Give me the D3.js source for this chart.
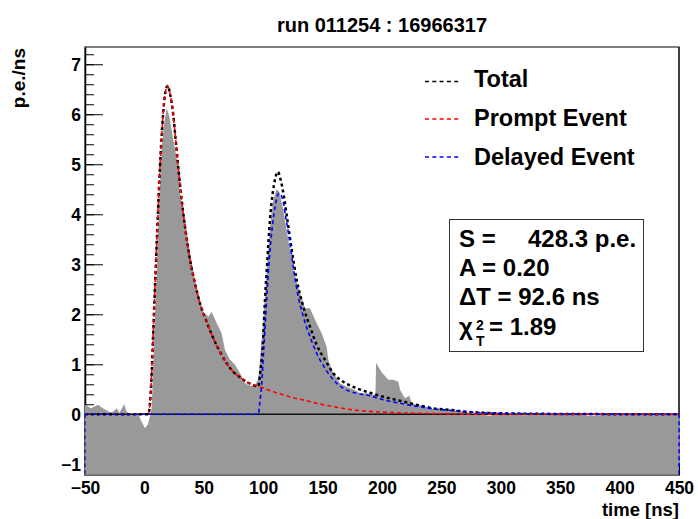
<!DOCTYPE html>
<html><head><meta charset="utf-8">
<script src="https://cdn.jsdelivr.net/npm/d3@7"></script>
<style>
html,body{margin:0;padding:0;background:#fff;}
svg{display:block;font-family:"Liberation Sans",Arial,Helvetica,sans-serif;font-weight:bold;}
</style></head>
<body>
<svg id="c" width="698" height="519"></svg>
<script>
// ---------- data ----------
const titleText = "run 011254 : 16966317";
const xTickValues = [-50, 0, 50, 100, 150, 200, 250, 300, 350, 400, 450];
const yTickValues = [-1, 0, 1, 2, 3, 4, 5, 6, 7];

// measured pulse (p.e./ns)
const histT = [-50,-45,-39,-35,-30,-27,-23.3,-21,-17,-15,-12,-5,-3,0.5,3,5,6,6.7,8.1,10.3,12.3,14.5,16.5,18.8,21,24.3,28.5,30,34.2,38.4,42.6,46.8,49.6,53.8,56.6,60.9,65,67.8,72,76.3,80.5,84.7,88.9,93.1,95.9,97.3,100.1,102.9,105.7,108.5,111.2,113.5,116.9,121.1,125.3,131,135.2,139.4,143.6,149.2,153.4,154.8,159,164.6,170.3,175.8,181.5,187.1,192.7,194.5,195,199.7,205.3,209.5,213.7,215.2,219.4,223,225,229,235,240.4,246,254.5,265.7,270,274,280,290,300,310,320,330,340,360,375,400,420,450];
const histV = [0.19,0.12,0.19,0.12,0.05,0.04,0.12,0.03,0.2,0.05,0,0,-0.12,-0.28,-0.2,0,0.1,0.49,1.49,2.83,4.15,5.29,5.8,6.12,5.95,5.49,4.95,4.42,3.89,3.22,2.69,2.22,2.05,1.95,2.05,1.82,1.62,1.29,1.09,0.99,0.82,0.62,0.57,0.58,0.7,1.09,1.89,2.89,3.75,4.29,4.5,4.45,4.09,3.49,2.89,2.42,2.12,2.12,1.89,1.62,1.35,1.09,0.82,0.62,0.55,0.5,0.42,0.42,0.39,0.40,1.03,0.84,0.69,0.69,0.65,0.49,0.32,0.37,0.22,0.19,0.17,0.12,0.09,0.08,0.05,0.08,0,0.01,-0.03,0.01,0,-0.02,0.01,0,0,-0.03,0,0.01,0];

// fitted components
const promptT = [-50,3.3,4.7,6.1,7.5,8.9,10.9,13.1,15.4,17.3,19.6,21.5,23.8,25.8,28.5,31.4,34.2,38.4,42.6,46.8,52.4,58,63.6,69.2,74.8,80.5,86,97.3,108.5,116.9,125.3,135,145,160,175,195,215,250,300,450];
const promptV = [0,0,0.22,0.82,1.69,2.55,3.75,4.95,5.89,6.39,6.57,6.42,6.09,5.62,4.95,4.29,3.75,3.09,2.62,2.22,1.85,1.52,1.25,1.02,0.85,0.74,0.65,0.55,0.45,0.39,0.33,0.28,0.22,0.15,0.09,0.05,0.03,0.01,0,0];

const delayedT = [-50,95.9,97,98.7,100.6,102.9,105.1,107.7,110.5,113.3,116.1,118.9,121.7,125.3,129.5,133.8,139.4,145,152,159,167.4,178.7,189.9,201.1,215.2,229,243,257,271,285,300,330,450];
const delayedV = [0,0,0.2,0.6,1.35,2.29,3.09,3.75,4.22,4.42,4.32,3.95,3.55,2.95,2.35,1.95,1.55,1.22,0.92,0.69,0.52,0.42,0.37,0.29,0.22,0.16,0.11,0.08,0.05,0.03,0.02,0.01,0];

const totalT = [-50,3.3,4.7,6.1,7.5,8.9,10.9,13.1,15.4,17.3,19.6,21.5,23.8,25.8,28.5,31.4,34.2,38.4,42.6,46.8,52.4,58,63.6,69.2,74.8,80.5,86,95.9,97.3,99.6,101.5,103.5,105.7,108,110.2,112.2,114.7,117.5,120.3,124,128.2,133.8,139.4,145,152,159,167.4,178.7,189.9,201.1,215.2,229,243,257,271,285,300,330,450];
const totalV = [0,0,0.22,0.82,1.69,2.55,3.75,4.95,5.89,6.39,6.57,6.42,6.09,5.62,4.95,4.29,3.75,3.09,2.62,2.22,1.85,1.52,1.25,1.02,0.85,0.74,0.65,0.56,0.8,1.35,2.29,3.09,3.89,4.42,4.72,4.85,4.69,4.35,3.89,3.29,2.69,2.15,1.75,1.39,1.09,0.82,0.65,0.52,0.43,0.35,0.27,0.19,0.12,0.09,0.05,0.03,0.02,0.01,0];

const legendLabels = ["Total", "Prompt Event", "Delayed Event"];
const legendColors = ["#000000", "#ff0000", "#0000ff"];
const statsS = "428.3 p.e.";
const statsA = "A = 0.20";
const statsDT = "\u0394T = 92.6 ns";
const statsChi = "= 1.89";

// ---------- layout ----------
const svg = d3.select("#c");
const L = 85, R = 679, T = 47, B = 475.3;
const x = d3.scaleLinear().domain([-50, 450]).range([L, R]);
const y = d3.scaleLinear().domain([-1.22, 7.345]).range([B, T]);

svg.append("rect").attr("width",698).attr("height",519).attr("fill","#fff");

// frame
svg.append("rect").attr("x",L).attr("y",T).attr("width",R-L).attr("height",B-T)
  .attr("fill","none").attr("stroke","#000").attr("stroke-width",1);

// y ticks (inside) - minor then major
const minorVals = d3.range(-60, 37).map(i => i*0.2).filter(v => v >= -1.22 && v <= 7.345);
const yMinor = d3.axisLeft(y).tickValues(minorVals).tickSizeInner(-9).tickSizeOuter(0).tickFormat("");
svg.append("g").attr("transform",`translate(${L},0)`).call(yMinor)
  .call(g => g.select(".domain").remove());
const yMajor = d3.axisLeft(y).tickValues(yTickValues).tickSizeInner(-18).tickSizeOuter(0).tickPadding(4);
const gy = svg.append("g").attr("transform",`translate(${L},0)`).call(yMajor);
gy.select(".domain").attr("stroke","#000").attr("stroke-width",1.5);
gy.selectAll(".tick text").attr("font-size",17.5).attr("font-family","Liberation Sans, Arial, sans-serif").attr("font-weight","bold").attr("fill","#000").attr("dy","0.36em");

// x axis ticks (hidden by fill), labels below
const xAxis = d3.axisBottom(x).tickValues(xTickValues).tickSizeInner(-12).tickSizeOuter(0).tickPadding(19);
const gx = svg.append("g").attr("transform",`translate(0,${B})`).call(xAxis);
gx.select(".domain").remove();
gx.selectAll(".tick text").attr("font-size",17.5).attr("font-family","Liberation Sans, Arial, sans-serif").attr("font-weight","bold").attr("fill","#000").attr("dy","0");

// histogram fill
const hist = histT.map((t,i) => [t, histV[i]]);
svg.append("path").datum(hist)
  .attr("d", d3.area().x(d => x(d[0])).y0(B).y1(d => y(d[1])))
  .attr("fill", "#999999");
svg.append("line").attr("x1",L).attr("x2",R).attr("y1",B).attr("y2",B).attr("stroke","#666").attr("stroke-width",1.5);

// zero line
svg.append("line").attr("x1",L).attr("x2",R).attr("y1",y(0)).attr("y2",y(0))
  .attr("stroke","#111").attr("stroke-width",1.5);

// fitted curves
const line = d3.line().x(d => x(d[0])).y(d => y(d[1])).curve(d3.curveMonotoneX);
function curve(ts, vs, color, w, dash) {
  svg.append("path").datum(ts.map((t,i)=>[t, vs[i]]))
    .attr("d", line).attr("fill","none").attr("stroke",color)
    .attr("stroke-width",w).attr("stroke-dasharray",dash);
}
curve(totalT, totalV, "#000", 2.5, "3,3");
curve(promptT, promptV, "#ff0000", 1.6, "4,3");
curve(delayedT, delayedV, "#0000ff", 1.6, "4,3");

// edge closure lines of the function polygon
[x(-50), x(450)].forEach((xx, i) => {
  svg.append("line").attr("x1",xx).attr("x2",xx).attr("y1",y(0)).attr("y2",B)
    .attr("stroke", i===0 ? "#4010a0" : "#0000ff").attr("stroke-width",1.5).attr("stroke-dasharray","4,3");
});

// right frame line above zero
svg.append("line").attr("x1",R).attr("x2",R).attr("y1",T).attr("y2",y(0)).attr("stroke","#000").attr("stroke-width",1);

// title
svg.append("text").attr("x",382).attr("y",32).attr("text-anchor","middle")
  .attr("font-size",20).attr("fill","#000").text(titleText);

// axis titles
svg.append("text").attr("x",R).attr("y",516).attr("text-anchor","end")
  .attr("font-size",18.5).attr("fill","#000").text("time [ns]");
svg.append("text").attr("transform","translate(25,48) rotate(-90)").attr("text-anchor","end")
  .attr("font-size",19).attr("fill","#000").text("p.e./ns");

// legend
const legLineY = [81.5, 119, 157];
const legTextY = [86.5, 126, 164.5];
legendLabels.forEach((lab, i) => {
  svg.append("line").attr("x1",425).attr("x2",459).attr("y1",legLineY[i]).attr("y2",legLineY[i])
    .attr("stroke",legendColors[i]).attr("stroke-width",1.5).attr("stroke-dasharray","4,3.3");
  svg.append("text").attr("x",474).attr("y",legTextY[i])
    .attr("font-size",23.5).attr("fill","#000").text(lab);
});

// stats box
svg.append("rect").attr("x",449.5).attr("y",219.5).attr("width",194).attr("height",132)
  .attr("fill","#fff").attr("stroke","#333").attr("stroke-width",1);
const fs = 24;
const t1 = svg.append("text").attr("y",247).attr("font-size",fs).attr("fill","#000");
t1.append("tspan").attr("x",459).text("S =");
t1.append("tspan").attr("x",528).text(statsS);
svg.append("text").attr("x",459).attr("y",276).attr("font-size",fs).attr("fill","#000").text(statsA);
svg.append("text").attr("x",459).attr("y",305).attr("font-size",fs).attr("fill","#000").text(statsDT);
svg.append("text").attr("x",459).attr("y",335).attr("font-size",fs).attr("fill","#000").text("\u03C7");
svg.append("text").attr("x",476).attr("y",330).attr("font-size",14).attr("fill","#000").text("2");
svg.append("text").attr("x",476).attr("y",346).attr("font-size",14).attr("fill","#000").text("T");
svg.append("text").attr("x",489).attr("y",335).attr("font-size",fs).attr("fill","#000").text(statsChi);
</script>
</body></html>
